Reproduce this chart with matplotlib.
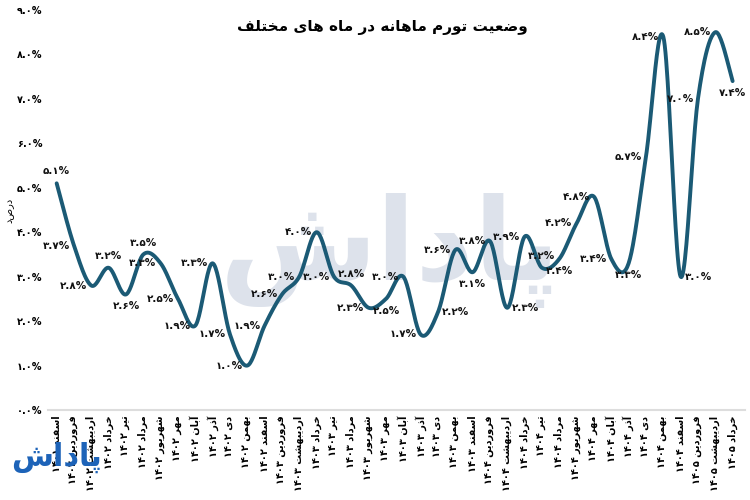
import numpy as np
import matplotlib
matplotlib.use('Agg')
import matplotlib.pyplot as plt

# ماه ها و تورم ماهانه (درصد)
months = ['اسفند ۱۴۰۱', 'فروردین ۱۴۰۲', 'اردیبهشت ۱۴۰۲', 'خرداد ۱۴۰۲', 'تیر ۱۴۰۲',
          'مرداد ۱۴۰۲', 'شهریور ۱۴۰۲', 'مهر ۱۴۰۲', 'آبان ۱۴۰۲', 'آذر ۱۴۰۲', 'دی ۱۴۰۲',
          'بهمن ۱۴۰۲', 'اسفند ۱۴۰۲', 'فروردین ۱۴۰۳', 'اردیبهشت ۱۴۰۳', 'خرداد ۱۴۰۳',
          'تیر ۱۴۰۳', 'مرداد ۱۴۰۳', 'شهریور ۱۴۰۳', 'مهر ۱۴۰۳', 'آبان ۱۴۰۳', 'آذر ۱۴۰۳',
          'دی ۱۴۰۳', 'بهمن ۱۴۰۳', 'اسفند ۱۴۰۳', 'فروردین ۱۴۰۴', 'اردیبهشت ۱۴۰۴',
          'خرداد ۱۴۰۴', 'تیر ۱۴۰۴', 'مرداد ۱۴۰۴', 'شهریور ۱۴۰۴', 'مهر ۱۴۰۴', 'آبان ۱۴۰۴',
          'آذر ۱۴۰۴', 'دی ۱۴۰۴', 'بهمن ۱۴۰۴', 'اسفند ۱۴۰۴', 'فروردین ۱۴۰۵',
          'اردیبهشت ۱۴۰۵', 'خرداد ۱۴۰۵']
inflation = [5.1, 3.7, 2.8, 3.2, 2.6, 3.5, 3.3, 2.5, 1.9, 3.3, 1.7, 1.0, 1.9, 2.6,
             3.0, 4.0, 3.0, 2.8, 2.3, 2.5, 3.0, 1.7, 2.2, 3.6, 3.1, 3.8, 2.3, 3.9,
             3.2, 3.4, 4.2, 4.8, 3.4, 3.3, 5.7, 8.4, 3.0, 7.0, 8.5, 7.4]
# جای برچسب هر نقطه
label_side = ['up', 'left', 'left', 'up', 'down', 'up', 'left', 'left', 'left', 'left',
              'left', 'left', 'left', 'left', 'left', 'left', 'left', 'up', 'left', 'down',
              'left', 'left', 'right', 'left', 'down', 'left', 'right', 'left', 'up', 'down',
              'left', 'left', 'left', 'down', 'left', 'left', 'right', 'left', 'left', 'down']
yticks = [0, 1, 2, 3, 4, 5, 6, 7, 8, 9]

title = 'وضعیت تورم ماهانه در ماه های مختلف'
ylab = 'درصد'

# --- شکل دادن حروف فارسی (بدون bidi) ---
FORMS = {
    'ا': ('\uFE8D', '\uFE8E', None, None), 'آ': ('\uFE81', '\uFE82', None, None),
    'د': ('\uFEA9', '\uFEAA', None, None), 'ذ': ('\uFEAB', '\uFEAC', None, None),
    'ر': ('\uFEAD', '\uFEAE', None, None), 'و': ('\uFEED', '\uFEEE', None, None),
    'ب': ('\uFE8F', '\uFE90', '\uFE91', '\uFE92'), 'ت': ('\uFE95', '\uFE96', '\uFE97', '\uFE98'),
    'خ': ('\uFEA5', '\uFEA6', '\uFEA7', '\uFEA8'), 'س': ('\uFEB1', '\uFEB2', '\uFEB3', '\uFEB4'),
    'ش': ('\uFEB5', '\uFEB6', '\uFEB7', '\uFEB8'), 'ض': ('\uFEBD', '\uFEBE', '\uFEBF', '\uFEC0'),
    'ع': ('\uFEC9', '\uFECA', '\uFECB', '\uFECC'), 'ف': ('\uFED1', '\uFED2', '\uFED3', '\uFED4'),
    'ل': ('\uFEDD', '\uFEDE', '\uFEDF', '\uFEE0'), 'م': ('\uFEE1', '\uFEE2', '\uFEE3', '\uFEE4'),
    'ن': ('\uFEE5', '\uFEE6', '\uFEE7', '\uFEE8'), 'ه': ('\uFEE9', '\uFEEA', '\uFEEB', '\uFEEC'),
    'ی': ('\uFBFC', '\uFBFD', '\uFBFE', '\uFBFF'), 'پ': ('\uFB56', '\uFB57', '\uFB58', '\uFB59'),
}


def fa(s):
    out = []
    for i, c in enumerate(s):
        if c not in FORMS:
            out.append(c)
            continue
        prev = s[i - 1] if i > 0 else ''
        nxt = s[i + 1] if i + 1 < len(s) else ''
        join_prev = prev in FORMS and FORMS[prev][2] is not None
        join_next = FORMS[c][2] is not None and nxt in FORMS
        iso, fin, ini, med = FORMS[c]
        if join_prev and join_next:
            out.append(med)
        elif join_prev:
            out.append(fin)
        elif join_next:
            out.append(ini)
        else:
            out.append(iso)
    # ترتیب دیداری: کلمات برعکس، اعداد دست نخورده
    runs, cur, cur_ar = [], '', None
    for c in out:
        ar = not (c.isdigit() or c in '.%')
        if cur_ar is None or ar == cur_ar:
            cur += c
        else:
            runs.append((cur, cur_ar))
            cur = c
        cur_ar = ar
    runs.append((cur, cur_ar))
    return ''.join(r[::-1] if ar else r for r, ar in reversed(runs))


def fa_num(v):
    s = '%.1f%%' % v
    return s.translate(str.maketrans('0123456789', '۰۱۲۳۴۵۶۷۸۹'))


def smooth(x, y, n=24):
    # منحنی نرم مثل اکسل (catmull-rom)
    px, py = [], []
    m = len(x)
    for i in range(m - 1):
        i0, i3 = max(i - 1, 0), min(i + 2, m - 1)
        t = np.linspace(0, 1, n, endpoint=False)
        for arr, src in ((px, x), (py, y)):
            p0, p1, p2, p3 = src[i0], src[i], src[i + 1], src[i3]
            arr.extend(0.5 * (2 * p1 + (-p0 + p2) * t + (2 * p0 - 5 * p1 + 4 * p2 - p3) * t ** 2
                              + (-p0 + 3 * p1 - 3 * p2 + p3) * t ** 3))
    px.append(x[-1])
    py.append(y[-1])
    return px, py


plt.rcParams['font.family'] = ['DejaVu Sans']
fig = plt.figure(figsize=(7.5, 5), dpi=100)
ax = fig.add_axes([0.064, 0.18, 0.929, 0.8])

# واترمارک پشت نمودار
ax.text(0.52, 0.50, fa('پاداش'), fontsize=82, fontweight='bold', color='#dde2eb',
        ha='center', va='center', transform=fig.transFigure, zorder=0)

x = np.arange(len(inflation))
sx, sy = smooth(x, np.array(inflation))
ax.plot(sx, sy, color='#1b5a75', linewidth=2.8, solid_capstyle='round', zorder=3)

offs = {'up': ((0, 5), 'center', 'bottom'), 'down': ((0, -5), 'center', 'top'),
        'left': ((-3, 0), 'right', 'center'), 'right': ((3, 0), 'left', 'center')}
for xi, v, side in zip(x, inflation, label_side):
    o, ha, va = offs[side]
    ax.annotate(fa_num(v), (xi, v), xytext=o, textcoords='offset points', ha=ha, va=va,
                fontsize=7.5, fontweight='bold', color='#111111', zorder=4)

ax.set_xlim(-0.5, 39.7)
ax.set_ylim(0, 9)
ax.set_yticks(yticks)
ax.set_yticklabels([fa_num(t) for t in yticks], fontsize=7, fontweight='bold')
ax.set_xticks(x)
ax.set_xticklabels([fa(m) for m in months], rotation=90, fontsize=7, fontweight='bold')
ax.tick_params(length=0, pad=4)
for s in ['top', 'right', 'left']:
    ax.spines[s].set_visible(False)
ax.spines['bottom'].set_color('#dddddd')
ax.spines['bottom'].set_linewidth(1.5)

fig.text(0.013, 0.58, fa(ylab), rotation=90, fontsize=7, ha='center', va='center')
fig.text(0.51, 0.945, fa(title), fontsize=11, fontweight='bold', ha='center', va='center')

# لوگو پایین چپ
fig.text(0.075, 0.085, fa('پاداش'), fontsize=22, fontweight='bold', color='#1d63b8',
         ha='center', va='center')

fig.savefig('out.png')
